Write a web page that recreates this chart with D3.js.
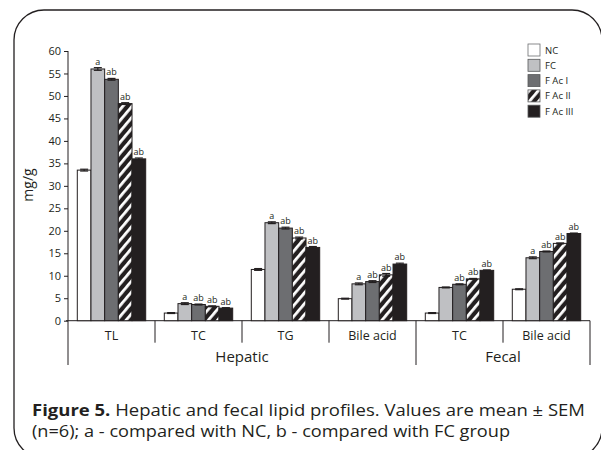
<!DOCTYPE html>
<html>
<head>
<meta charset="utf-8">
<script src="https://cdn.jsdelivr.net/npm/d3@7"></script>
<style>
  html, body { margin: 0; padding: 0; background: #fff; }
  svg { display: block; }
  text { font-family: "Open Sans", "Noto Sans", sans-serif; fill: #231f20; }
</style>
</head>
<body>
<div id="chart"></div>
<script>
// ---------- data ----------
const categories = ["TL", "TC", "TG", "Bile acid", "TC", "Bile acid"];
const groups = ["Hepatic", "Fecal"];
const groupSpans = [4, 2];
const seriesNames = ["NC", "FC", "F Ac I", "F Ac II", "F Ac III"];
const valuesNC    = [33.5, 1.7, 11.4, 4.9, 1.7, 7.0];
const valuesFC    = [56.0, 3.8, 21.8, 8.2, 7.4, 14.0];
const valuesFAcI  = [53.7, 3.6, 20.6, 8.7, 8.1, 15.4];
const valuesFAcII = [48.3, 3.2, 18.4, 10.2, 9.3, 17.2];
const valuesFAcIII= [36.0, 2.8, 16.3, 12.6, 11.2, 19.4];
const semNC    = [0.2, 0.1, 0.2, 0.1, 0.1, 0.1];
const semFC    = [0.3, 0.2, 0.2, 0.2, 0.1, 0.2];
const semFAcI  = [0.2, 0.1, 0.2, 0.2, 0.1, 0.1];
const semFAcII = [0.2, 0.1, 0.2, 0.3, 0.1, 0.1];
const semFAcIII= [0.2, 0.1, 0.2, 0.2, 0.1, 0.1];
const sigNC    = ["", "", "", "", "", ""];
const sigFC    = ["a", "a", "a", "a", "", "a"];
const sigFAcI  = ["ab", "ab", "ab", "ab", "ab", "ab"];
const sigFAcII = ["ab", "ab", "ab", "ab", "ab", "ab"];
const sigFAcIII= ["ab", "ab", "ab", "ab", "ab", "ab"];
const yTicks = [0, 5, 10, 15, 20, 25, 30, 35, 40, 45, 50, 55, 60];
const yLabel = "mg/g";
const captionBold = "Figure 5.";
const captionLine1 = " Hepatic and fecal lipid profiles. Values are mean \u00b1 SEM";
const captionLine2 = "(n=6); a - compared with NC, b - compared with FC group";

const seriesValues = [valuesNC, valuesFC, valuesFAcI, valuesFAcII, valuesFAcIII];
const seriesSem = [semNC, semFC, semFAcI, semFAcII, semFAcIII];
const seriesSig = [sigNC, sigFC, sigFAcI, sigFAcII, sigFAcIII];

// ---------- layout ----------
const W = 601, H = 450;
const svg = d3.select("#chart").append("svg").attr("width", W).attr("height", H);

const defs = svg.append("defs");
const pat = defs.append("pattern")
  .attr("id", "stripes").attr("patternUnits", "userSpaceOnUse")
  .attr("width", 7).attr("height", 7)
  .attr("patternTransform", "rotate(40)");
pat.append("rect").attr("width", 7).attr("height", 7).attr("fill", "#231f20");
pat.append("rect").attr("x", 0).attr("width", 2.8).attr("height", 7).attr("fill", "#fff");

const fills = ["#ffffff", "#bfc0c3", "#6d6e71", "url(#stripes)", "#231f20"];

// frame
svg.append("rect").attr("x", 14).attr("y", 10).attr("width", 588).attr("height", 448)
  .attr("rx", 30).attr("ry", 30).attr("fill", "none").attr("stroke", "#231f20").attr("stroke-width", 1.3);

const x0L = 68, x0R = 590, yTop = 51, yBot = 320.7;
const idx = categories.map((d, i) => i);
const x0 = d3.scaleBand().domain(idx).range([x0L, x0R]).paddingInner(0).paddingOuter(0);
const x1 = d3.scaleBand().domain(d3.range(seriesNames.length))
  .range([9.3, x0.bandwidth() - 9.3]).padding(0);
const y = d3.scaleLinear().domain([0, 60]).range([yBot, yTop]);

// y axis
const yAxis = d3.axisLeft(y).tickValues(yTicks).tickSize(4).tickPadding(3);
const gy = svg.append("g").attr("transform", `translate(${x0L},0)`).call(yAxis);
gy.select(".domain").remove();
gy.selectAll("line").attr("stroke", "#231f20");
gy.selectAll("text").style("font-size", "11px").attr("fill", "#231f20");
svg.append("line").attr("x1", x0L).attr("x2", x0L).attr("y1", yTop).attr("y2", 365)
  .attr("stroke", "#231f20").attr("stroke-width", 1);

svg.append("text").attr("transform", `translate(33,${185}) rotate(-90)`)
  .attr("text-anchor", "middle").style("font-size", "14px").text(yLabel);

// x axis line
svg.append("line").attr("x1", x0L - 2).attr("x2", x0R).attr("y1", yBot).attr("y2", yBot)
  .attr("stroke", "#231f20").attr("stroke-width", 1);

// category separators
const bounds = d3.range(categories.length + 1);
let groupEdges = [0];
groupSpans.reduce((acc, s) => { groupEdges.push(acc + s); return acc + s; }, 0);
bounds.forEach(b => {
  const xx = b < categories.length ? x0(b) : x0R;
  const isGroup = groupEdges.includes(b);
  if (b === 0) return;
  svg.append("line").attr("x1", xx).attr("x2", xx).attr("y1", yBot)
    .attr("y2", isGroup ? 365 : 342.7).attr("stroke", "#231f20").attr("stroke-width", 1);
});

// category labels
svg.selectAll("text.cat").data(categories).enter().append("text")
  .attr("class", "cat")
  .attr("x", (d, i) => x0(i) + x0.bandwidth() / 2)
  .attr("y", 339.5).attr("text-anchor", "middle").style("font-size", "12.5px").text(d => d);

// group labels
let start = 0;
groups.forEach((g, gi) => {
  const a = x0(start);
  const endIdx = start + groupSpans[gi];
  const b = endIdx < categories.length ? x0(endIdx) : x0R;
  svg.append("text").attr("x", (a + b) / 2).attr("y", 362).attr("text-anchor", "middle")
    .style("font-size", "15px").text(g);
  start = endIdx;
});

// bars
seriesNames.forEach((s, si) => {
  const g = svg.append("g");
  const vals = seriesValues[si];
  g.selectAll("rect").data(vals).enter().append("rect")
    .attr("x", (d, i) => x0(i) + x1(si))
    .attr("y", d => y(d))
    .attr("width", x1.bandwidth())
    .attr("height", d => y(0) - y(d))
    .attr("fill", fills[si])
    .attr("stroke", "#231f20").attr("stroke-width", 1);
  // error bars
  vals.forEach((d, i) => {
    const cx = x0(i) + x1(si) + x1.bandwidth() / 2;
    const e = seriesSem[si][i];
    const eb = svg.append("g").attr("stroke", "#231f20").attr("stroke-width", 1.2);
    eb.append("line").attr("x1", cx).attr("x2", cx).attr("y1", y(d - e)).attr("y2", y(d + e));
    eb.append("line").attr("x1", cx - 4).attr("x2", cx + 4).attr("y1", y(d + e)).attr("y2", y(d + e));
    eb.append("line").attr("x1", cx - 4).attr("x2", cx + 4).attr("y1", y(d - e)).attr("y2", y(d - e));
    const lab = seriesSig[si][i];
    if (lab) {
      svg.append("text").attr("x", cx).attr("y", y(d + e) - 3).attr("text-anchor", "middle")
        .style("font-size", "9px").attr("fill", "#58595b").text(lab);
    }
  });
});

// legend
const lg = svg.append("g").attr("transform", "translate(528,44)");
seriesNames.forEach((s, si) => {
  const row = lg.append("g").attr("transform", `translate(0,${si * 15.3})`);
  row.append("rect").attr("width", 12).attr("height", 12).attr("fill", fills[si])
    .attr("stroke", si === 0 ? "#6d6e71" : "#58595b").attr("stroke-width", 0.8);
  row.append("text").attr("x", 17).attr("y", 9.5).style("font-size", "9.5px").text(s);
});

// caption
const c1 = svg.append("text").attr("x", 32).attr("y", 416).style("font-size", "16px")
  .attr("textLength", 553).attr("lengthAdjust", "spacingAndGlyphs");
c1.append("tspan").style("font-weight", "bold").text(captionBold);
c1.append("tspan").text(captionLine1);
svg.append("text").attr("x", 32).attr("y", 437).style("font-size", "16px")
  .attr("textLength", 478).attr("lengthAdjust", "spacingAndGlyphs").text(captionLine2);
</script>
</body>
</html>
